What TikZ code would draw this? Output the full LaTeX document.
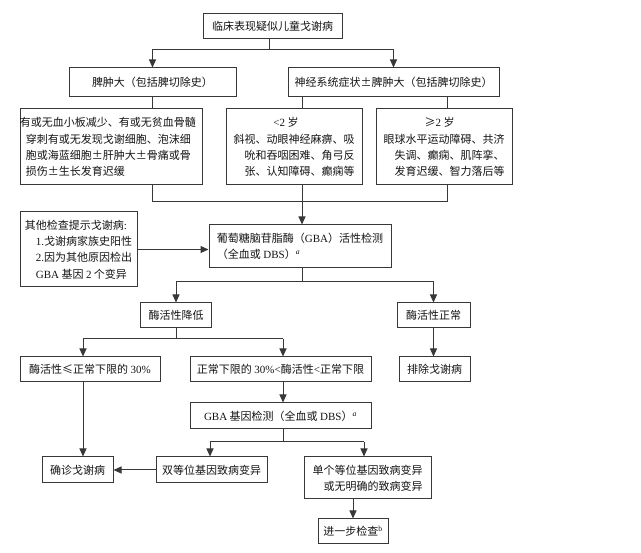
\documentclass[tikz,border=0pt]{standalone}
\usepackage{fontspec}
\setmainfont{Noto Sans CJK SC}
\newfontfamily\lat{Liberation Serif}
\usetikzlibrary{arrows.meta}
\begin{document}
\begin{tikzpicture}[x=1pt,y=-1pt,
  box/.style={draw=black!78, line width=1pt, inner sep=0pt, text=black!92,
    font=\fontsize{11}{16.3}\selectfont},
  ln/.style={draw=black!78, line width=1pt},
  arr/.style={ln, -{Triangle[length=8pt,width=7pt]}}]
\useasboundingbox (0,0) rectangle (641,553);
\newcommand{\supa}{{\lat\textsuperscript{\textit{a}}}}
\newcommand{\supb}{{\lat\textsuperscript{b}}}

\node[box, minimum width=139pt, minimum height=25pt] (top) at (272.5,26.5) {临床表现疑似儿童戈谢病};
\node[box, minimum width=167pt, minimum height=29pt] (spleen) at (152.5,82.5) {脾肿大（包括脾切除史）};
\node[box, minimum width=211pt, minimum height=29pt] (neuro) at (393.5,82.5) {神经系统症状±脾肿大（包括脾切除史）};

\node[box, minimum width=182pt, minimum height=76pt, align=left] (leftdet) at (111,147)
  {\hspace*{-6pt}有或无血小板减少、有或无贫血骨髓\\穿刺有或无发现戈谢细胞、泡沫细\\胞或海蓝细胞±肝肿大±骨痛或骨\\损伤±生长发育迟缓};
\node[box, minimum width=136pt, minimum height=76pt, align=right] (middet) at (294,147)
  {{\lat <2} 岁\hspace*{56pt}\null\\斜视、动眼神经麻痹、吸\\吮和吞咽困难、角弓反\\张、认知障碍、癫痫等};
\node[box, minimum width=136pt, minimum height=76pt, align=right] (rightdet) at (444,147)
  {≥{\lat 2} 岁\hspace*{50pt}\null\\眼球水平运动障碍、共济\\失调、癫痫、肌阵挛、\\发育迟缓、智力落后等};

\node[box, minimum width=117pt, minimum height=75pt, align=left] (other) at (78.5,249.5)
  {其他检查提示戈谢病{\lat :}\\\hspace*{11pt}{\lat 1.}戈谢病家族史阳性\\\hspace*{11pt}{\lat 2.}因为其他原因检出\\\hspace*{11pt}{\lat GBA} 基因 {\lat 2} 个变异};
\node[box, minimum width=182pt, minimum height=43pt, align=left] (gba) at (300,246.5)
  {葡萄糖脑苷脂酶（{\lat GBA}）活性检测\\（全血或 {\lat DBS}）\supa\hspace*{60pt}\null};

\node[box, minimum width=71pt, minimum height=25pt] (low) at (176,315.5) {酶活性降低};
\node[box, minimum width=73pt, minimum height=25pt] (normal) at (433.5,315.5) {酶活性正常};

\node[box, minimum width=140pt, minimum height=25pt] (le30) at (90,369.5) {酶活性≤正常下限的 {\lat 30\%}};
\node[box, minimum width=181pt, minimum height=25pt] (mid30) at (280.5,369.5) {正常下限的 {\lat 30\%<}酶活性{\lat <}正常下限};
\node[box, minimum width=71pt, minimum height=25pt] (excl) at (434.5,369.5) {排除戈谢病};

\node[box, minimum width=181pt, minimum height=26pt] (gene) at (280.5,416) {{\lat GBA} 基因检测（全血或 {\lat DBS}）\supa};

\node[box, minimum width=71pt, minimum height=26pt] (confirm) at (77.5,470) {确诊戈谢病};
\node[box, minimum width=111pt, minimum height=26pt] (biallelic) at (211.5,470) {双等位基因致病变异};
\node[box, minimum width=127pt, minimum height=42pt, align=right] (single) at (367.5,478)
  {单个等位基因致病变异\\或无明确的致病变异};
\node[box, minimum width=70pt, minimum height=25pt] (further) at (353,531.5) {进一步检查\supb};

% connectors
\coordinate (j1) at (269,50);
\draw[ln] (top.south -| j1) -- (j1);
\draw[arr] (j1) -| (spleen.north);
\draw[arr] (j1) -| (neuro.north);

\coordinate (c1) at (152.5,202);
\coordinate (c2) at (302,202);
\coordinate (c3) at (447,202);
\draw[ln] (spleen.south) -- (spleen.south |- leftdet.north);
\draw[ln] (neuro.south -| c2) -- (c2 |- middet.north);
\draw[ln] (neuro.south -| c3) -- (c3 |- rightdet.north);
\draw[ln] (c1 |- leftdet.south) -- (c1) -- (c3) -- (c3 |- rightdet.south);
\draw[ln] (c2 |- middet.south) -- (c2);
\draw[arr] (c2) -- (c2 |- gba.north);

\draw[arr] (other.east) -- (other.east -| gba.west);

\coordinate (c4) at (302,282);
\draw[ln] (c2 |- gba.south) -- (c4);
\draw[arr] (c4) -| (low.north);
\draw[arr] (c4) -| (normal.north);

\coordinate (c5) at (176,339);
\coordinate (x83) at (83,339);
\coordinate (x283) at (283,339);
\draw[ln] (low.south) -- (c5);
\draw[ln] (x83) -- (x283);
\draw[arr] (x83) -- (x83 |- le30.north);
\draw[arr] (x283) -- (x283 |- mid30.north);
\draw[arr] (x283 |- mid30.south) -- (x283 |- gene.north);
\draw[arr] (x83 |- le30.south) -- (x83 |- confirm.north);
\draw[arr] (normal.south) -- (normal.south |- excl.north);

\coordinate (c6) at (283,442);
\coordinate (c6L) at (210,442);
\coordinate (c6R) at (364,442);
\draw[ln] (x283 |- gene.south) -- (c6);
\draw[ln] (c6L) -- (c6R);
\draw[arr] (c6L) -- (c6L |- biallelic.north);
\draw[arr] (c6R) -- (c6R |- single.north);
\draw[arr] (biallelic.west) -- (biallelic.west -| confirm.east);
\draw[arr] (further.north |- single.south) -- (further.north);
\end{tikzpicture}
\end{document}
